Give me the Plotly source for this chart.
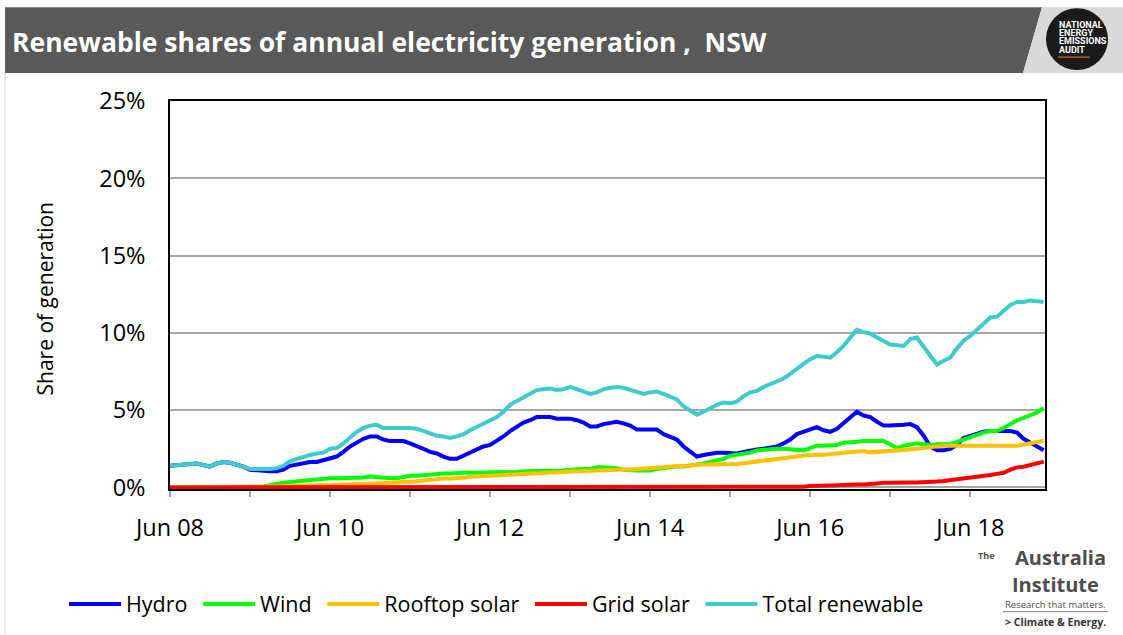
import plotly.graph_objects as go

# ---------------- data (percent of NSW generation, monthly from Jun 08) ----------------
total = [1.4, 1.45, 1.5, 1.5, 1.55, 1.45, 1.35, 1.55, 1.65, 1.6, 1.5, 1.35,
         1.2, 1.2, 1.15, 1.2, 1.25, 1.4, 1.7, 1.85, 2.0, 2.1, 2.2, 2.25,
         2.5, 2.55, 2.85, 3.2, 3.6, 3.85, 4.0, 4.05, 3.85, 3.85, 3.85, 3.9,
         3.85, 3.8, 3.65, 3.55, 3.35, 3.3, 3.2, 3.3, 3.45, 3.7, 3.9, 4.1,
         4.3, 4.55, 4.9, 5.35, 5.6, 5.85, 6.05, 6.3, 6.35, 6.4, 6.3, 6.35,
         6.5, 6.35, 6.2, 6.05, 6.15, 6.35, 6.45, 6.5, 6.45, 6.3, 6.15, 6.05,
         6.15, 6.2, 6.05, 5.9, 5.7, 5.25, 4.95, 4.7, 4.9, 5.15, 5.35, 5.5,
         5.45, 5.55, 5.9, 6.15, 6.25, 6.5, 6.7, 6.9, 7.05, 7.35, 7.7, 8.0,
         8.3, 8.5, 8.45, 8.4, 8.75, 9.15, 9.7, 10.2, 10.05, 9.95, 9.7, 9.45,
         9.25, 9.2, 9.15, 9.6, 9.7, 9.1, 8.5, 7.95, 8.2, 8.4, 9.0, 9.5,
         9.8, 10.2, 10.65, 11.0, 11.05, 11.4, 11.8, 12.0, 12.0, 12.1, 12.05, 12.0]

hydro = [1.4, 1.45, 1.5, 1.5, 1.55, 1.45, 1.35, 1.55, 1.65, 1.6, 1.5, 1.35,
         1.15, 1.1, 1.05, 1.05, 1.05, 1.15, 1.4, 1.5, 1.6, 1.65, 1.65, 1.75,
         1.85, 2.0, 2.3, 2.65, 2.9, 3.15, 3.3, 3.3, 3.1, 3.0, 3.0, 3.0,
         2.85, 2.7, 2.5, 2.3, 2.2, 2.0, 1.85, 1.85, 2.05, 2.3, 2.45, 2.65,
         2.75, 3.0, 3.3, 3.65, 3.95, 4.2, 4.35, 4.55, 4.55, 4.55, 4.45, 4.45,
         4.45, 4.35, 4.2, 3.95, 3.95, 4.1, 4.2, 4.25, 4.15, 4.0, 3.75, 3.75,
         3.75, 3.75, 3.45, 3.3, 3.1, 2.65, 2.3, 2.0, 2.1, 2.2, 2.25, 2.25,
         2.2, 2.2, 2.3, 2.4, 2.45, 2.5, 2.6, 2.65, 2.85, 3.1, 3.45, 3.6,
         3.8, 3.9, 3.7, 3.6, 3.8, 4.15, 4.55, 4.9, 4.65, 4.55, 4.25, 4.0,
         4.0, 4.0, 4.05, 4.1, 3.9, 3.35, 2.65, 2.4, 2.4, 2.5, 2.75, 3.2,
         3.35, 3.5, 3.6, 3.65, 3.65, 3.65, 3.65, 3.55, 3.15, 2.9, 2.65, 2.4]

wind = [0, 0, 0, 0, 0, 0, 0, 0, 0, 0, 0, 0,
        0, 0, 0.05, 0.15, 0.25, 0.3, 0.35, 0.4, 0.45, 0.5, 0.5, 0.55,
        0.6, 0.6, 0.6, 0.6, 0.6, 0.65, 0.7, 0.65, 0.6, 0.6, 0.6, 0.7,
        0.75, 0.75, 0.8, 0.85, 0.85, 0.9, 0.9, 0.95, 0.95, 0.95, 0.95, 1.0,
        1.0, 1.0, 0.95, 1.0, 1.0, 1.05, 1.05, 1.05, 1.05, 1.1, 1.1, 1.1,
        1.15, 1.2, 1.2, 1.2, 1.3, 1.3, 1.3, 1.25, 1.15, 1.1, 1.1, 1.1,
        1.1, 1.2, 1.25, 1.35, 1.35, 1.35, 1.4, 1.45, 1.55, 1.65, 1.75, 1.85,
        2.05, 2.1, 2.15, 2.25, 2.4, 2.45, 2.5, 2.5, 2.5, 2.45, 2.4, 2.4,
        2.55, 2.7, 2.7, 2.7, 2.75, 2.9, 2.9, 2.95, 3.0, 3.0, 3.0, 3.0,
        2.8, 2.55, 2.7, 2.8, 2.85, 2.8, 2.75, 2.8, 2.8, 2.8, 2.95, 3.1,
        3.3, 3.45, 3.55, 3.65, 3.65, 3.85, 4.1, 4.35, 4.5, 4.65, 4.85, 5.15]

rooftop = [0, 0, 0, 0, 0, 0, 0.01, 0.01, 0.01, 0.02, 0.02, 0.02,
           0.03, 0.03, 0.04, 0.05, 0.06, 0.07, 0.08, 0.09, 0.1, 0.11, 0.12, 0.13,
           0.14, 0.15, 0.17, 0.18, 0.2, 0.22, 0.24, 0.26, 0.28, 0.3, 0.32, 0.32,
           0.35, 0.4, 0.45, 0.5, 0.55, 0.58, 0.58, 0.58, 0.62, 0.7, 0.72, 0.75,
           0.77, 0.77, 0.78, 0.82, 0.84, 0.84, 0.84, 0.88, 0.92, 0.96, 0.98, 1.0,
           1.03, 1.05, 1.07, 1.1, 1.14, 1.16, 1.16, 1.16, 1.16, 1.16, 1.18, 1.19,
           1.21, 1.25, 1.3, 1.35, 1.35, 1.36, 1.4, 1.47, 1.48, 1.48, 1.48, 1.48,
           1.48, 1.52, 1.57, 1.62, 1.66, 1.7, 1.75, 1.82, 1.88, 1.94, 2.0, 2.07,
           2.12, 2.12, 2.12, 2.13, 2.2, 2.24, 2.3, 2.34, 2.36, 2.27, 2.3, 2.36,
           2.38, 2.38, 2.4, 2.43, 2.5, 2.56, 2.62, 2.68, 2.7, 2.7, 2.7, 2.7,
           2.7, 2.7, 2.7, 2.7, 2.7, 2.7, 2.7, 2.7, 2.78, 2.85, 2.93, 3.02]

grid_solar = [0, 0, 0, 0, 0, 0, 0, 0, 0, 0, 0, 0,
              0, 0, 0, 0, 0, 0, 0, 0, 0, 0, 0, 0,
              0, 0, 0, 0, 0, 0, 0, 0, 0, 0, 0, 0,
              0, 0, 0, 0, 0, 0, 0, 0, 0, 0, 0, 0,
              0, 0, 0, 0, 0, 0, 0, 0, 0, 0, 0, 0,
              0, 0, 0, 0, 0, 0, 0, 0, 0, 0, 0, 0,
              0, 0, 0, 0, 0, 0, 0, 0, 0, 0, 0, 0,
              0, 0, 0, 0, 0, 0, 0, 0, 0, 0, 0.02, 0.05,
              0.1, 0.13, 0.13, 0.13, 0.15, 0.18, 0.19, 0.19, 0.19, 0.19, 0.25, 0.3,
              0.32, 0.32, 0.32, 0.32, 0.32, 0.32, 0.32, 0.38, 0.42, 0.47, 0.55, 0.6,
              0.63, 0.66, 0.74, 0.8, 0.88, 0.95, 1.15, 1.3, 1.34, 1.45, 1.55, 1.67]

month_index = list(range(len(total)))          # months since Jun 08
year_tick_months = [0, 12, 24, 36, 48, 60, 72, 84, 96, 108, 120]
year_tick_labels = ["Jun 08", "", "Jun 10", "", "Jun 12", "", "Jun 14", "", "Jun 16", "", "Jun 18"]

series_names = ["Hydro", "Wind", "Rooftop solar", "Grid solar", "Total renewable"]
series_values = [hydro, wind, rooftop, grid_solar, total]
series_colors = ["#0000FF", "#00FF00", "#FFC000", "#FF0000", "#3FCBCD"]

# ---------------- figure ----------------
W, H = 1123, 635
L, R, T, B = 170, 1045, 101, 490


def px(x):
    return (x - L) / (R - L)


def py(y):
    return (B - y) / (B - T)


FONT = "'Open Sans', sans-serif"
NBSP = "\u00a0"

fig = go.Figure()
for k, (name, vals, col) in enumerate(zip(series_names, series_values, series_colors)):
    label = name + (NBSP if k < len(series_names) - 1 else "")
    fig.add_trace(go.Scatter(x=month_index, y=vals, name=label, mode="lines",
                             line=dict(color=col, width=4), hoverinfo="skip"))

shapes = [
    # title bar
    dict(type="path", xref="paper", yref="paper",
         path=f"M {px(5)},{py(7)} L {px(1042)},{py(7)} L {px(1023)},{py(73)} L {px(5)},{py(73)} Z",
         fillcolor="#595959", line=dict(width=0), layer="above"),
    dict(type="path", xref="paper", yref="paper",
         path=f"M {px(1042)},{py(7)} L {px(1123)},{py(7)} L {px(1123)},{py(73)} L {px(1023)},{py(73)} Z",
         fillcolor="#D9D9D9", line=dict(width=0), layer="above"),
    # logo circle
    dict(type="circle", xref="paper", yref="paper",
         x0=px(1046), x1=px(1108), y0=py(70), y1=py(8),
         fillcolor="#1A1A1A", line=dict(width=0), layer="above"),
    dict(type="line", xref="paper", yref="paper",
         x0=px(1058), x1=px(1090), y0=py(57), y1=py(57),
         line=dict(color="#B5572B", width=1.5), layer="above"),
    # slide left border
    dict(type="line", xref="paper", yref="paper",
         x0=px(5), x1=px(5), y0=py(73), y1=py(635),
         line=dict(color="#D0D0D0", width=1), layer="above"),
    # Australia Institute rule
    dict(type="line", xref="paper", yref="paper",
         x0=px(1003), x1=px(1108), y0=py(613), y1=py(613),
         line=dict(color="#7F7F7F", width=1), layer="above"),
]

annotations = [
    dict(text="<b>Renewable shares of annual electricity generation ,  NSW</b>",
         x=px(10), y=py(42), xref="paper", yref="paper", xanchor="left", yanchor="middle",
         showarrow=False, font=dict(family=FONT, size=26.5, color="white")),
    dict(text="Share of generation", textangle=-90,
         x=px(45), y=py(300), xref="paper", yref="paper", xanchor="center", yanchor="middle",
         showarrow=False, font=dict(family=FONT, size=21, color="black")),
]
for txt, yy in [("NATIONAL", 25), ("ENERGY", 33), ("EMISSIONS", 41), ("AUDIT", 50)]:
    annotations.append(dict(text=f"<b>{txt}</b>", x=px(1057), y=py(yy), xref="paper", yref="paper",
                            xanchor="left", yanchor="middle", showarrow=False,
                            font=dict(family="Roboto, sans-serif", size=9, color="white")))
logo_grey = "#4D4D4D"
annotations += [
    dict(text="<b>The</b>", x=px(996), y=py(557), xref="paper", yref="paper", xanchor="right",
         yanchor="middle", showarrow=False, font=dict(family=FONT, size=9, color=logo_grey)),
    dict(text="<b>Australia</b>", x=px(1108), y=py(559), xref="paper", yref="paper", xanchor="right",
         yanchor="middle", showarrow=False, font=dict(family=FONT, size=20, color=logo_grey)),
    dict(text="<b>Institute</b>", x=px(1101), y=py(586), xref="paper", yref="paper", xanchor="right",
         yanchor="middle", showarrow=False, font=dict(family=FONT, size=20, color=logo_grey)),
    dict(text="Research that matters.", x=px(1108), y=py(606), xref="paper", yref="paper", xanchor="right",
         yanchor="middle", showarrow=False, font=dict(family=FONT, size=9.5, color=logo_grey)),
    dict(text="<b>&gt; Climate &amp; Energy.</b>", x=px(1108), y=py(623), xref="paper", yref="paper",
         xanchor="right", yanchor="middle", showarrow=False, font=dict(family=FONT, size=10.5, color="#333333")),
]

fig.update_layout(
    width=W, height=H,
    margin=dict(l=L, r=W - R, t=T, b=H - B, pad=0),
    paper_bgcolor="white", plot_bgcolor="white",
    font=dict(family=FONT, color="black"),
    showlegend=True,
    legend=dict(orientation="h", x=px(64), y=py(604), xanchor="left", yanchor="middle",
                font=dict(family=FONT, size=21.5, color="black"), itemwidth=52,
                bgcolor="rgba(0,0,0,0)", traceorder="normal"),
    shapes=shapes, annotations=annotations,
    xaxis=dict(range=[0, 131.2], tickmode="array", tickvals=year_tick_months, ticktext=year_tick_labels,
               ticks="outside", ticklen=6, tickwidth=1.5, tickcolor="#A6A6A6",
               showgrid=False, zeroline=False, showline=True, linecolor="black", linewidth=1.5,
               mirror=True, tickfont=dict(family=FONT, size=23.5, color="black"),
               ticklabelstandoff=11),
    yaxis=dict(range=[-0.1, 25], tickmode="array", tickvals=[0, 5, 10, 15, 20, 25],
               ticktext=["0%", "5%", "10%", "15%", "20%", "25%"],
               showgrid=True, gridcolor="#A6A6A6", gridwidth=1.5, zeroline=False,
               showline=True, linecolor="black", linewidth=1.5, mirror=True, ticks="",
               tickfont=dict(family=FONT, size=23.5, color="black"), ticklabelstandoff=18),
)

fig.write_html("out.html", config={"displayModeBar": False},
               post_script="document.body.style.margin='0px';")
